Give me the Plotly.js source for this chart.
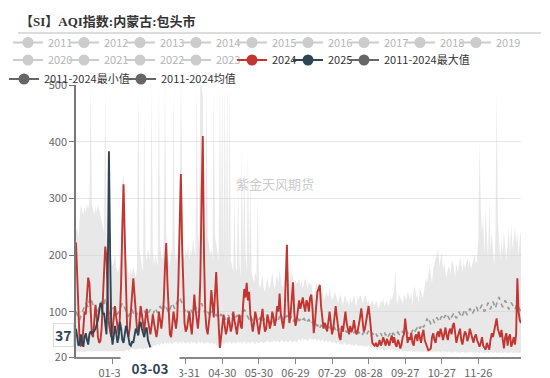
<!DOCTYPE html>
<html><head><meta charset="utf-8">
<script src="https://cdn.plot.ly/plotly-3.0.1.min.js"></script>
<style>html,body{margin:0;padding:0;background:#fff}#chart{width:550px;height:378px}</style>
</head><body><div id="chart"></div>
<script>
const titleText = '【SI】AQI指数:内蒙古:包头市';
const hiddenYearsRow1 = ['2011','2012','2013','2014','2015','2016','2017','2018','2019'];
const hiddenYearsRow2 = ['2020','2021','2022','2023'];
const tickDays = [31,61,91,121,151,181,211,241,271,301,331];
const tickLabels = ['01-31','03-01','03-31','04-30','05-30','06-29','07-29','08-28','09-27','10-27','11-26'];
const yTicks = [20,100,200,300,400,500];
const lastLabel = '37';
const currentDateLabel = '03-03';
const currentDay = 61.5;
const watermark = '紫金天风期货';

// 2024 daily AQI (day of year 1..366)
const s2024 = [
 222,160,80,45,40,42,70,100,95,130,160,150,95,60,55,85,112,90,55,45,48,70,110,170,215,195,130,80,65,55,70,
 90,110,90,70,60,90,150,250,325,230,120,65,55,70,100,130,159,130,95,70,60,80,110,95,75,65,90,105,85,
 70,60,75,95,80,65,55,70,100,85,70,90,120,180,221,150,90,60,55,75,100,85,70,90,150,250,343,220,120,80,65,
 70,85,100,75,60,90,130,105,80,70,95,160,300,410,200,100,70,60,80,100,138,110,90,130,170,120,70,36,55,80,
 95,75,60,70,90,80,65,75,100,85,70,60,80,95,75,70,110,140,125,151,120,135,95,75,65,80,100,90,70,60,75,
 90,105,80,65,70,95,85,70,80,100,90,75,85,110,100,132,95,80,70,90,150,218,120,80,95,130,152,100,75,85,
 110,120,105,115,125,110,100,120,115,100,125,130,105,62,80,110,135,140,147,110,85,70,80,75,65,85,100,80,60,70,95,
 110,90,70,55,50,75,65,90,100,80,70,60,75,65,70,85,70,60,65,75,90,106,80,65,70,85,100,110,90,60,45,
 42,40,45,38,42,50,40,45,55,48,40,52,45,40,50,58,45,55,42,38,50,45,35,42,55,60,88,60,45,55,
 50,62,45,40,55,60,48,65,55,45,60,68,50,45,40,32,33,35,55,62,50,45,60,65,55,70,62,50,60,72,58,
 50,65,70,60,75,80,60,45,55,65,70,50,42,55,65,60,48,55,70,62,50,45,55,60,50,42,38,45,55,40,
 35,33,45,40,33,50,62,55,65,75,88,70,60,55,68,45,35,55,62,40,55,60,38,45,55,42,60,159,100,85,80
];
// 2025 daily AQI (up to 03-03)
const s2025 = [
 70,55,40,42,60,45,38,55,62,50,42,60,65,62,64,66,70,78,85,100,115,112,95,98,80,60,150,383,200,60,
 42,55,75,62,45,55,82,70,50,45,60,75,68,50,42,40,48,45,55,70,65,58,75,82,70,60,55,68,72,50,42,37
];
// 2011-2024 maximum
const sMax = [
 240,250,230,270,290,280,270,285,275,290,280,295,500,290,280,270,285,275,290,280,270,260,250,240,500,230,220,210,200,190,180,
 190,200,180,170,175,185,210,330,340,260,200,180,170,160,175,165,180,170,160,175,500,210,190,180,170,450,200,190,210,
 200,190,500,210,180,200,190,180,500,220,200,190,230,500,240,200,190,180,210,200,500,210,190,200,220,260,500,300,200,190,210,
 200,220,190,210,200,230,210,200,500,220,240,500,500,480,250,210,500,230,220,200,210,190,500,230,220,200,190,500,210,500,
 190,500,180,500,170,500,190,180,170,300,180,170,320,190,160,390,180,360,200,170,380,180,330,170,160,150,170,160,300,150,140,
 150,165,140,135,150,160,145,140,155,170,150,140,155,165,150,175,160,145,140,155,160,225,165,150,160,170,160,145,155,150,
 150,160,145,155,140,150,160,150,140,155,145,150,130,125,140,150,145,150,150,130,140,125,120,135,130,125,140,130,120,125,135,
 130,120,115,125,130,120,110,125,130,115,120,110,125,115,120,130,115,110,125,120,130,125,115,120,130,125,115,120,110,115,120,
 115,110,120,115,105,110,120,115,125,110,115,120,110,115,125,120,130,140,175,120,115,130,125,120,115,130,125,120,135,130,
 120,135,110,140,145,125,130,115,140,135,125,130,145,160,150,170,180,165,150,175,185,195,200,210,180,190,205,175,185,170,160,
 175,180,165,185,190,175,160,185,170,180,195,185,170,190,175,185,195,180,190,175,185,195,200,185,190,230,400,280,240,260,
 200,280,220,190,300,210,240,200,180,230,490,260,210,190,230,200,240,210,190,220,250,200,256,210,230,250,220,240,200,230,240
];
// 2011-2024 minimum
const sMin = [
 30,29,30,29,30,29,30,29,30,30,29,30,29,30,29,30,29,30,29,30,29,30,30,29,30,29,30,29,30,29,30,
 30,29,30,29,30,29,30,30,29,30,32,33,31,34,35,33,36,34,32,35,33,36,34,35,33,36,34,35,37,
 36,38,35,40,42,38,41,44,40,43,45,41,44,46,42,45,43,47,44,42,46,44,48,45,43,47,45,44,48,46,44,
 45,47,43,46,48,44,47,45,43,46,48,44,47,45,42,46,44,47,45,43,46,44,42,45,40,38,36,34,38,42,
 45,43,47,44,46,48,45,43,47,45,44,46,48,45,47,44,46,48,45,43,47,45,44,46,48,45,43,47,45,44,46,
 48,46,44,47,45,49,47,45,48,46,50,48,46,49,47,45,48,50,47,45,49,47,46,48,50,47,45,49,47,46,
 50,52,48,51,53,49,52,50,48,51,54,50,52,49,53,51,48,52,50,47,51,49,46,50,48,45,49,47,44,48,46,
 45,43,46,42,44,41,43,45,42,40,44,41,43,40,42,39,41,43,40,38,42,39,41,38,40,37,39,41,38,36,38,
 35,34,36,33,35,32,34,36,33,31,34,32,35,33,31,34,32,30,33,31,32,30,33,31,29,32,30,31,29,32,
 30,32,29,31,30,28,31,29,30,28,30,29,31,28,30,28,29,30,28,29,30,28,31,29,30,28,29,31,28,30,29,
 28,30,29,27,29,28,30,27,29,28,27,29,28,30,27,28,29,27,28,30,27,29,28,27,29,28,27,29,28,27,
 28,27,29,28,27,29,28,27,28,29,27,28,27,29,28,27,28,29,27,28,27,29,28,27,28,27,29,28,27,28,27
];
// 2011-2024 mean
const sMean = [
 100,95,90,85,92,98,105,110,115,112,108,120,125,118,110,105,100,95,102,108,112,118,115,110,122,118,105,98,95,100,105,
 108,102,98,95,100,105,110,115,112,105,98,95,92,96,100,104,98,94,90,95,100,96,92,95,98,102,97,93,96,
 100,104,98,95,100,106,102,98,104,110,106,100,105,112,108,102,98,104,110,115,110,105,112,118,122,125,120,112,108,105,100,
 104,98,102,106,100,96,102,108,104,98,102,110,115,108,102,98,104,100,96,92,98,102,96,92,95,90,88,92,96,90,
 94,90,86,90,94,88,92,96,90,86,90,94,88,85,90,94,98,104,100,95,90,86,92,88,84,88,92,86,82,86,90,
 86,82,88,84,80,86,90,84,80,84,88,82,86,90,86,92,96,90,86,84,90,94,88,84,88,92,86,82,86,84,
 88,84,86,82,86,88,84,80,84,86,82,78,82,76,80,78,74,78,72,76,74,70,74,68,72,70,74,68,66,70,72,
 68,72,66,70,74,68,65,70,66,63,68,72,66,64,68,62,66,70,64,62,66,63,60,64,62,58,62,66,60,58,62,
 60,58,62,56,60,58,62,57,60,64,58,62,56,60,63,58,62,60,57,61,64,60,58,62,66,60,63,67,62,60,
 64,62,66,70,65,68,72,76,70,74,78,72,76,82,88,80,84,78,82,86,80,84,90,86,82,88,92,86,90,94,88,
 92,88,84,90,94,98,92,88,94,100,96,90,94,100,104,98,94,100,106,102,96,100,104,110,106,100,104,108,112,106,
 100,104,110,116,108,104,112,118,112,106,114,120,126,118,112,108,114,120,116,110,104,110,116,112,108,104,110,114,108,104,100
];

const RED = '#c23531', NAVY = '#2f4554', DARK = '#666666', LIGHT = '#cccccc';
const FONT = '"Noto Sans CJK SC", "Noto Sans", sans-serif';
const days = arr => arr.map((_, i) => i + 1);

const traces = [
  {x: days(sMin), y: sMin, type: 'scatter', mode: 'lines', line: {width: 0, color: 'rgba(0,0,0,0)'}, showlegend: false, hoverinfo: 'skip'},
  {x: days(sMax), y: sMax, type: 'scatter', mode: 'lines', fill: 'tonexty', fillcolor: 'rgba(210,210,210,0.5)', line: {width: 0, color: 'rgba(0,0,0,0)'}, showlegend: false, hoverinfo: 'skip'},
  {x: days(sMean), y: sMean, type: 'scatter', mode: 'lines', line: {width: 1.6, color: '#9a9a9a', dash: '5px,4px'}, showlegend: false, hoverinfo: 'skip'},
  {x: days(s2024), y: s2024, type: 'scatter', mode: 'lines', line: {width: 1.9, color: RED}, showlegend: false, hoverinfo: 'skip'},
  {x: days(s2025), y: s2025, type: 'scatter', mode: 'lines', line: {width: 1.9, color: NAVY}, showlegend: false, hoverinfo: 'skip'}
];

function legendEntry(name, color, legend, width) {
  const t = {x: [null], y: [null], type: 'scatter', mode: 'lines+markers', name: name,
    line: {color: color, width: 2}, marker: {color: color, size: 11}, legend: legend, showlegend: true, hoverinfo: 'skip'};
  if (width) t.legendwidth = width;
  return t;
}
const grey = y => '<span style="color:#b5b5b5">' + y + '</span>';
hiddenYearsRow1.forEach((y, i) => traces.push(legendEntry(grey(y), LIGHT, 'legend', i === hiddenYearsRow1.length - 1 ? 24 : 0)));
hiddenYearsRow2.forEach(y => traces.push(legendEntry(grey(y), LIGHT, 'legend3')));
traces.push(legendEntry('2024', RED, 'legend3'));
traces.push(legendEntry('2025', NAVY, 'legend3'));
traces.push(legendEntry('2011-2024最大值', DARK, 'legend3', 90));
traces.push(legendEntry('2011-2024最小值', DARK, 'legend2'));
traces.push(legendEntry('2011-2024均值', DARK, 'legend2'));

const L = 76, PW = 445, T = 85, PH = 272;
const px = v => (v - L) / PW;
const py = v => (T + PH - v) / PH;
const legendBase = {orientation: 'h', xanchor: 'left', yanchor: 'top', bgcolor: 'rgba(0,0,0,0)', entrywidthmode: 'pixels',
  traceorder: 'normal', itemclick: false, itemdoubleclick: false, font: {size: 11, color: '#333', family: FONT}};

const layout = {
  width: 550, height: 378,
  margin: {l: L, r: 550 - L - PW, t: T, b: 378 - T - PH, autoexpand: false},
  paper_bgcolor: '#fff', plot_bgcolor: '#fff',
  font: {family: FONT, size: 11, color: '#666'},
  hovermode: false,
  title: {text: titleText, x: 20 / 550, xref: 'container', xanchor: 'left', y: 1 - 21 / 378, yref: 'container', yanchor: 'middle',
    font: {family: '"Liberation Serif", "Noto Sans CJK SC", serif', size: 13, color: '#333', weight: 'bold'}},
  xaxis: {range: [1, 366], tickmode: 'array', tickvals: tickDays, ticktext: tickLabels, showgrid: false, zeroline: false,
    showline: true, linecolor: '#888', linewidth: 1.5, ticks: 'outside', ticklen: 5, tickcolor: '#888',
    tickfont: {size: 11, color: '#666', family: FONT}, fixedrange: true},
  yaxis: {range: [20, 500], tickmode: 'array', tickvals: yTicks, showgrid: true, gridcolor: '#e6e6e6', gridwidth: 1, zeroline: false,
    showline: true, linecolor: '#777', linewidth: 1.8, ticks: 'outside', ticklen: 5, tickcolor: '#777',
    tickfont: {size: 11, color: '#666', family: FONT}, fixedrange: true},
  legend: Object.assign({}, legendBase, {x: px(8), y: py(28), entrywidth: 11}),
  legend3: Object.assign({}, legendBase, {x: px(8), y: py(45.5), entrywidth: 11}),
  legend2: Object.assign({}, legendBase, {x: px(4), y: py(64.5), entrywidth: 72}),
  shapes: [
    {type: 'line', xref: 'paper', yref: 'paper', x0: px(18), x1: px(541), y0: py(33), y1: py(33), line: {color: '#dddddd', width: 2}}
  ],
  annotations: [
    {text: watermark, xref: 'paper', yref: 'paper', x: px(275), y: py(183), showarrow: false, font: {size: 13, color: '#cccccc', family: FONT}},
    {text: '<b>' + lastLabel + '</b>', xref: 'paper', yref: 'paper', x: px(74), xanchor: 'right', y: py(335), yanchor: 'middle', showarrow: false,
      bgcolor: '#fff', bordercolor: '#dddddd', borderwidth: 1, borderpad: 1, font: {size: 14, color: NAVY, family: FONT}},
    {text: '<b>' + currentDateLabel + '</b>', xref: 'x', yref: 'paper', x: currentDay, y: py(368), yanchor: 'middle', showarrow: false,
      bgcolor: '#fff', width: 56, font: {size: 13.5, color: NAVY, family: FONT}}
  ]
};

Plotly.newPlot('chart', traces, layout, {displayModeBar: false, staticPlot: true});
</script>
</body></html>
